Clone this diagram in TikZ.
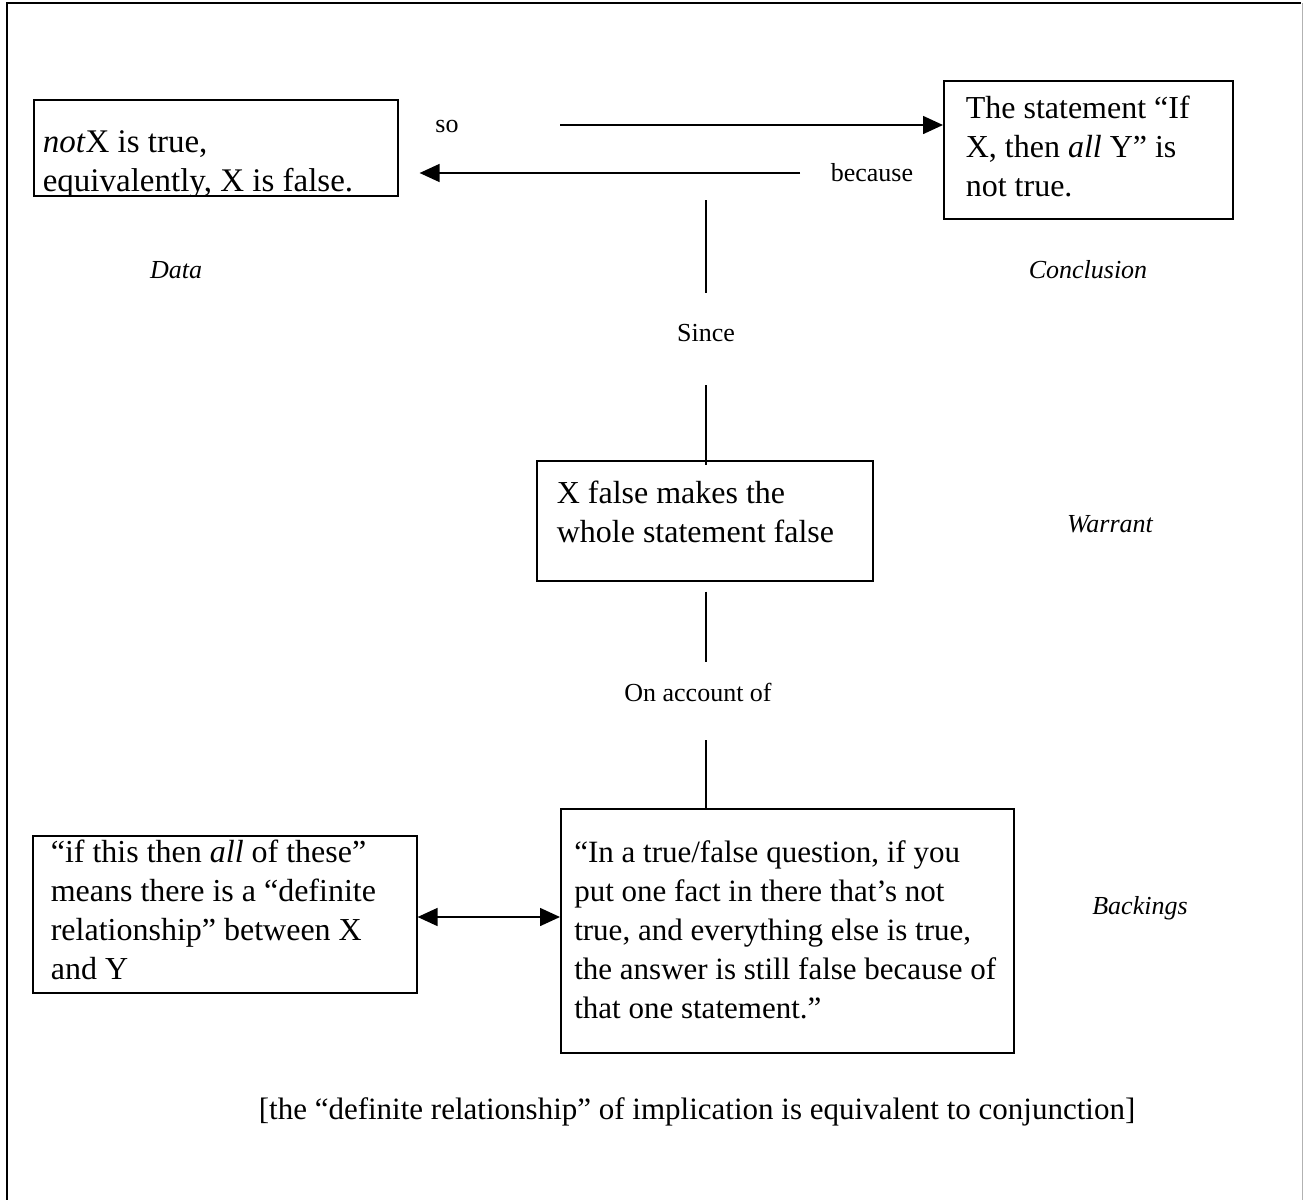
\documentclass[tikz,border=0pt]{standalone}
\usepackage{fontspec}
\setmainfont{Liberation Serif}
\usetikzlibrary{arrows.meta}

\begin{document}
\begin{tikzpicture}[x=0.5pt, y=-0.5pt,
  box/.style={draw, line width=0.8pt, anchor=north west, align=flush left, inner ysep=0pt,
    font=\fontsize{16}{19.5}\selectfont},
  lbl/.style={font=\fontsize{13}{16}\selectfont, inner sep=1pt},
  role/.style={font=\fontsize{13}{16}\selectfont\itshape, inner sep=1pt},
  link/.style={line width=0.8pt},
  arr/.style={-{Triangle[length=10pt,width=9pt]}},
  dblarr/.style={{Triangle[length=10pt,width=9pt]}-{Triangle[length=10pt,width=9pt]}}]
  \useasboundingbox (0,0) rectangle (1303,1200);
  \draw[line width=1.2pt] (7,1200) -- (7,3) -- (1301,3);
  \draw[gray!60, line width=0.5pt] (1302,3) -- (1302,1200);

  \begin{scope}
    \clip (20,90) rectangle (410,196.6);
    \node[box, font=\fontsize{16.5}{19.5}\selectfont, text width=173pt, inner xsep=4.5pt, text height=26.5pt, text depth=21.5pt] (data) at (33,99)
      {\textit{not}X is true,\\equivalently, X is false.};
  \end{scope}
  \node[box, text width=122.5pt, inner xsep=11pt, text height=19pt, text depth=50pt] (concl) at (943,80)
    {The statement “If\\X, then \textit{all} Y” is\\not true.};
  \node[box, text width=148pt, inner xsep=10pt, text height=21.5pt, text depth=38.5pt] (warrant) at (536,460)
    {X false makes the\\whole statement false};
  \node[box, font=\fontsize{15.5}{19.5}\selectfont, text width=213pt, inner xsep=6.75pt, text height=27pt, text depth=95pt] (backing) at (560,808)
    {“In a true/false question, if you\\put one fact in there that’s not\\true, and everything else is true,\\the answer is still false because of\\that one statement.”};
  \node[box, text width=174pt, inner xsep=9pt, text height=13.5pt, text depth=65pt] (lbox) at (32,835)
    {“if this then \textit{all} of these”\\means there is a “definite\\relationship” between X\\and Y};

  \node[lbl] (so) at (447,126) {so};
  \node[lbl] (because) at (872,173) {because};
  \node[lbl] (since) at (706,333) {Since};
  \node[lbl] (account) at (698,692) {On account of};
  \node[role] (datalbl) at (176,270) {Data};
  \node[role] (concllbl) at (1088,270) {Conclusion};
  \node[role] (warrantlbl) at (1110,524) {Warrant};
  \node[role] (backlbl) at (1140,908) {Backings};
  \node[font=\fontsize{15.5}{19.5}\selectfont] (note) at (697,1112)
    {[the “definite relationship” of implication is equivalent to conjunction]};

  \coordinate (soStart) at (560,125);
  \draw[link, arr] (soStart) -- (soStart -| concl.west);
  \coordinate (becStart) at (800,173);
  \draw[link, arr, shorten >=10.5pt] (becStart) -- (becStart -| data.east);

  \draw[link] ([yshift=14.5pt]since.north) -- ([yshift=61pt]since.north);
  \draw[link] ([yshift=-20.5pt]since.south) -- ([yshift=-2.5pt]since |- warrant.north);
  \draw[link] ([yshift=-5pt]warrant.south -| since) -- ([yshift=-40pt]warrant.south -| since);
  \draw[link] ([yshift=34pt]backing.north -| since) -- (backing.north -| since);

  \coordinate (dbl) at (0,917);
  \draw[link, dblarr] (lbox.east |- dbl) -- (backing.west |- dbl);
\end{tikzpicture}
\end{document}
